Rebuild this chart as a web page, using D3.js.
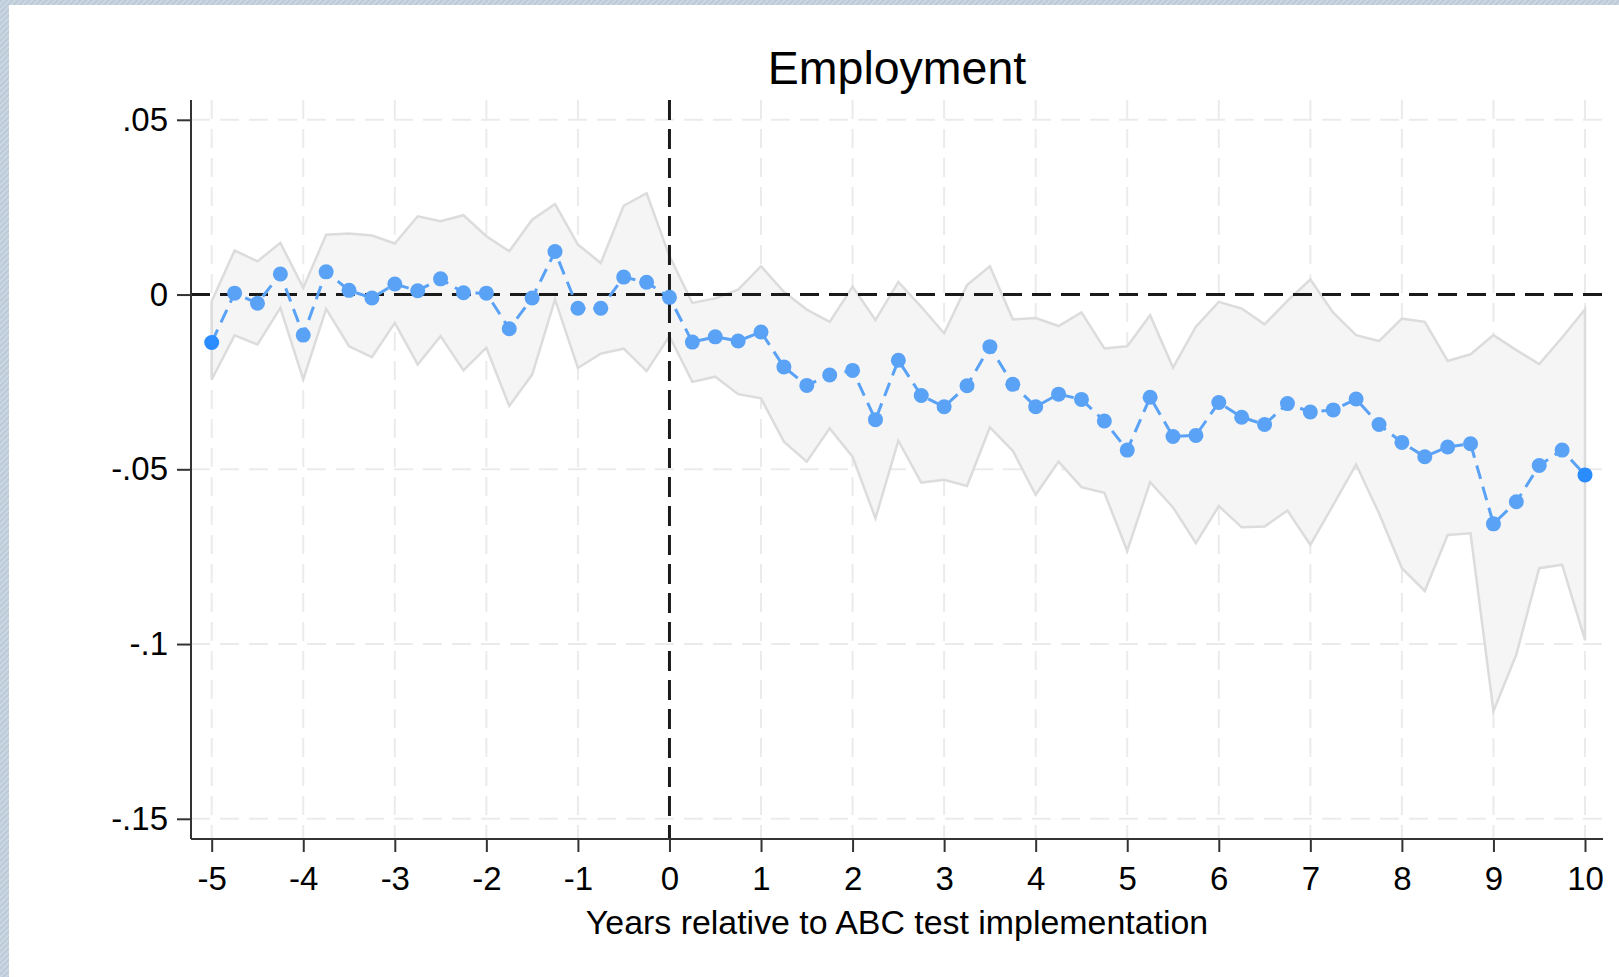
<html>
<head>
  <meta charset="UTF-8">
  <script src="https://d3js.org/d3.v7.min.js"></script>
  <style>
    body { margin: 0; overflow: hidden; background: #fff; }
    text { font-family: "Liberation Sans", Arial, sans-serif; fill: #000; }
  </style>
</head>
<body>
  <svg id="chart" width="1619" height="977"></svg>
  <script>
    // event time in quarters
    const years = [ -5, -4.75, -4.5, -4.25, -4, -3.75, -3.5, -3.25, -3, -2.75, -2.5, -2.25, -2, -1.75, -1.5, -1.25,
      -1, -0.75, -0.5, -0.25, 0, 0.25, 0.5, 0.75, 1, 1.25, 1.5, 1.75, 2, 2.25, 2.5, 2.75, 3, 3.25, 3.5, 3.75,
      4, 4.25, 4.5, 4.75, 5, 5.25, 5.5, 5.75, 6, 6.25, 6.5, 6.75, 7, 7.25, 7.5, 7.75, 8, 8.25, 8.5, 8.75,
      9, 9.25, 9.5, 9.75, 10 ];

    const coef = [ -0.0137, 0.0004, -0.0025, 0.0059, -0.0116, 0.0065, 0.0012, -0.0010, 0.0030, 0.0011, 0.0045, 0.0005,
      0.0004, -0.0098, -0.0010, 0.0123, -0.0039, -0.0039, 0.0050, 0.0035, -0.0008, -0.0136, -0.0121, -0.0133,
      -0.0107, -0.0207, -0.0260, -0.0230, -0.0217, -0.0358, -0.0188, -0.0289, -0.0321, -0.0261, -0.0149, -0.0257,
      -0.0321, -0.0285, -0.0300, -0.0362, -0.0445, -0.0294, -0.0406, -0.0403, -0.0309, -0.0351, -0.0372, -0.0312,
      -0.0336, -0.0330, -0.0299, -0.0372, -0.0423, -0.0464, -0.0436, -0.0427, -0.0656, -0.0593, -0.0489, -0.0445,
      -0.0516 ];

    const ciHigh = [ -0.0019, 0.0126, 0.0095, 0.0148, 0.0019, 0.0171, 0.0175, 0.0169, 0.0146, 0.0224, 0.0210, 0.0227,
      0.0167, 0.0124, 0.0214, 0.0259, 0.0143, 0.0090, 0.0254, 0.0290, 0.0110, -0.0024, -0.0011, 0.0014,
      0.0081, 0.0008, -0.0043, -0.0078, 0.0022, -0.0073, 0.0036, -0.0035, -0.0111, 0.0027, 0.0081, -0.0071,
      -0.0067, -0.0090, -0.0051, -0.0154, -0.0148, -0.0059, -0.0209, -0.0092, -0.0021, -0.0040, -0.0085, -0.0018,
      0.0043, -0.0052, -0.0116, -0.0133, -0.0069, -0.0078, -0.0190, -0.0171, -0.0116, -0.0159, -0.0199, -0.0123,
      -0.0043 ];

    const ciLow = [ -0.0243, -0.0117, -0.0143, -0.0038, -0.0243, -0.0041, -0.0148, -0.0179, -0.0081, -0.0200, -0.0119, -0.0217,
      -0.0152, -0.0319, -0.0229, -0.0014, -0.0210, -0.0169, -0.0155, -0.0219, -0.0119, -0.0250, -0.0235, -0.0285,
      -0.0297, -0.0421, -0.0478, -0.0383, -0.0464, -0.0640, -0.0418, -0.0538, -0.0530, -0.0548, -0.0380, -0.0447,
      -0.0573, -0.0478, -0.0551, -0.0567, -0.0733, -0.0537, -0.0609, -0.0711, -0.0605, -0.0666, -0.0664, -0.0618,
      -0.0716, -0.0602, -0.0486, -0.0626, -0.0783, -0.0848, -0.0688, -0.0683, -0.1192, -0.1030, -0.0783, -0.0773,
      -0.0988 ];

    const xTicks = [ -5, -4, -3, -2, -1, 0, 1, 2, 3, 4, 5, 6, 7, 8, 9, 10 ];
    const yTicks = [ 0.05, 0, -0.05, -0.1, -0.15 ];
    const yTickLabels = [ ".05", "0", "-.05", "-.1", "-.15" ];

    const data = years.map( ( t, i ) => ( { t: t, b: coef[ i ], hi: ciHigh[ i ], lo: ciLow[ i ] } ) );

    // plot box
    const plotL = 191, plotR = 1603, plotT = 100, plotB = 839;

    const svg = d3.select( "#chart" );

    // hatched frame on left and top
    const defs = svg.append( "defs" );
    const pat = defs.append( "pattern" )
      .attr( "id", "hatch" )
      .attr( "width", 4 ).attr( "height", 4 )
      .attr( "patternUnits", "userSpaceOnUse" )
      .attr( "patternTransform", "rotate(45)" );
    pat.append( "rect" ).attr( "width", 4 ).attr( "height", 4 ).attr( "fill", "#cbd7e2" );
    pat.append( "rect" ).attr( "width", 2 ).attr( "height", 4 ).attr( "fill", "#bccad7" );
    svg.append( "rect" ).attr( "x", 0 ).attr( "y", 0 ).attr( "width", 1619 ).attr( "height", 5 ).attr( "fill", "url(#hatch)" );
    svg.append( "rect" ).attr( "x", 0 ).attr( "y", 0 ).attr( "width", 9 ).attr( "height", 977 ).attr( "fill", "url(#hatch)" );

    const x = d3.scaleLinear().domain( [ -5, 10 ] ).range( [ 211.7, 1585 ] );
    const y = d3.scaleLinear().domain( [ -0.15, 0.05 ] ).range( [ 818.8, 119.8 ] );

    // grid
    const grid = svg.append( "g" )
      .attr( "stroke", "#ebebeb" )
      .attr( "stroke-width", 2 )
      .attr( "stroke-dasharray", "19,10" );
    grid.selectAll( "line.v" ).data( xTicks ).enter().append( "line" )
      .attr( "x1", d => x( d ) ).attr( "x2", d => x( d ) )
      .attr( "y1", plotT ).attr( "y2", plotB );
    grid.selectAll( "line.h" ).data( yTicks ).enter().append( "line" )
      .attr( "x1", plotL ).attr( "x2", plotR )
      .attr( "y1", d => y( d ) ).attr( "y2", d => y( d ) );

    // confidence band
    const band = d3.area()
      .x( d => x( d.t ) )
      .y0( d => y( d.lo ) )
      .y1( d => y( d.hi ) );
    svg.append( "path" )
      .datum( data )
      .attr( "d", band )
      .attr( "fill", "#f5f5f5" )
      .attr( "stroke", "#dcdcdc" )
      .attr( "stroke-width", 2.5 );

    // reference lines
    svg.append( "line" )
      .attr( "x1", plotL ).attr( "x2", plotR )
      .attr( "y1", y( 0 ) ).attr( "y2", y( 0 ) )
      .attr( "stroke", "#1a1a1a" ).attr( "stroke-width", 3 )
      .attr( "stroke-dasharray", "19,10" );
    svg.append( "line" )
      .attr( "x1", x( 0 ) ).attr( "x2", x( 0 ) )
      .attr( "y1", plotT ).attr( "y2", plotB )
      .attr( "stroke", "#1a1a1a" ).attr( "stroke-width", 3 )
      .attr( "stroke-dasharray", "20,9" );

    // coefficients
    const line = d3.line().x( d => x( d.t ) ).y( d => y( d.b ) );
    svg.append( "path" )
      .datum( data )
      .attr( "d", line )
      .attr( "fill", "none" )
      .attr( "stroke", "#5aa2f6" )
      .attr( "stroke-width", 3 )
      .attr( "stroke-dasharray", "14,8" );

    svg.append( "g" )
      .selectAll( "circle" )
      .data( data ).enter()
      .append( "circle" )
      .attr( "cx", d => x( d.t ) )
      .attr( "cy", d => y( d.b ) )
      .attr( "r", 7.5 )
      .attr( "fill", ( d, i ) => ( i === 0 || i === data.length - 1 ) ? "#2a8cff" : "#5aa2f6" );

    // axes
    const yAxis = d3.axisLeft( y ).tickValues( yTicks )
      .tickFormat( ( d, i ) => yTickLabels[ i ] )
      .tickSize( 14 ).tickPadding( 9 );
    const gy = svg.append( "g" ).attr( "transform", "translate(" + plotL + ",0)" ).call( yAxis );
    gy.select( ".domain" ).attr( "d", "M0," + plotT + "V" + plotB );

    const xAxis = d3.axisBottom( x ).tickValues( xTicks )
      .tickFormat( d => d < 0 ? "-" + Math.abs( d ) : String( d ) )
      .tickSize( 13 ).tickPadding( 15 );
    const gx = svg.append( "g" ).attr( "transform", "translate(0," + plotB + ")" ).call( xAxis );
    gx.select( ".domain" ).attr( "d", "M" + plotL + ",0H" + plotR );

    svg.selectAll( ".domain, .tick line" ).attr( "stroke", "#333" ).attr( "stroke-width", 2 );
    svg.selectAll( ".tick text" )
      .attr( "font-size", 33 )
      .attr( "font-family", "Liberation Sans, Arial, sans-serif" )
      .attr( "fill", "#000" );

    // titles
    svg.append( "text" )
      .attr( "x", ( plotL + plotR ) / 2 ).attr( "y", 84 )
      .attr( "text-anchor", "middle" )
      .attr( "font-size", 46.5 )
      .text( "Employment" );
    svg.append( "text" )
      .attr( "x", ( plotL + plotR ) / 2 ).attr( "y", 934 )
      .attr( "text-anchor", "middle" )
      .attr( "font-size", 33.9 )
      .text( "Years relative to ABC test implementation" );
  </script>
</body>
</html>
